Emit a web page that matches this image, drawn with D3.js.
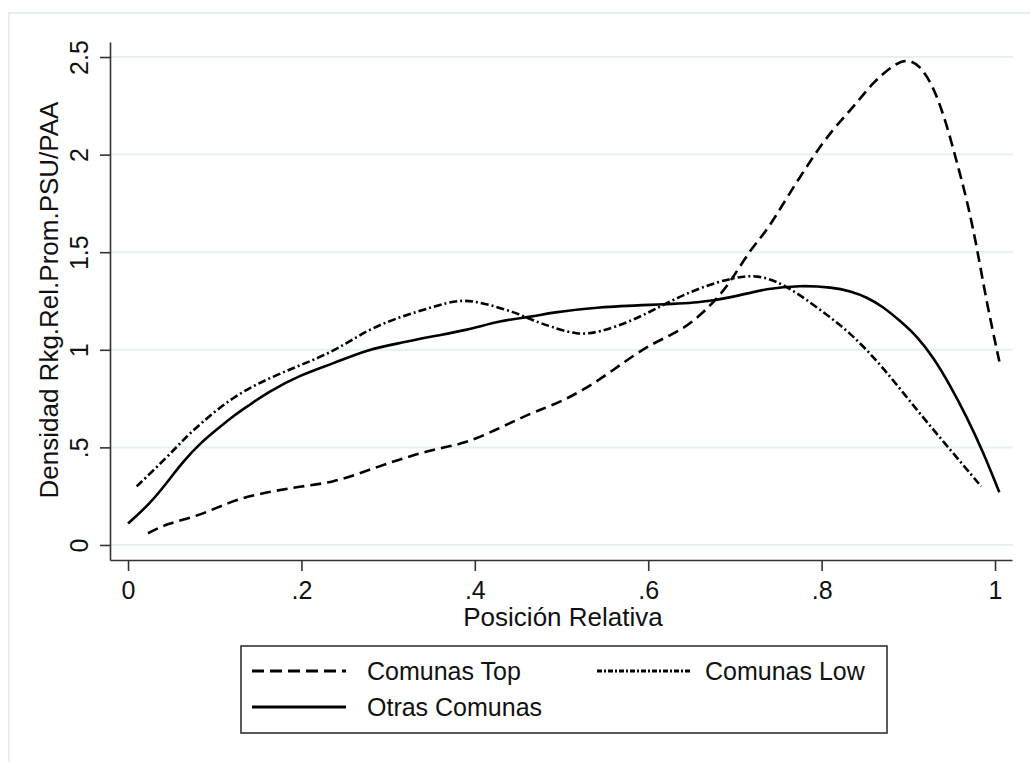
<!DOCTYPE html>
<html>
<head>
<meta charset="utf-8">
<script src="https://cdn.jsdelivr.net/npm/d3@7"></script>
<style>
  html, body { margin: 0; padding: 0; background: #fff; }
  svg { display: block; font-family: Arial, "Liberation Sans", sans-serif; }
</style>
</head>
<body>
<svg id="chart" width="1030" height="762"></svg>
<script>
// Kernel density of relative position, by commune group
const xTicks = [0, 0.2, 0.4, 0.6, 0.8, 1];
const xTickLabels = ["0", ".2", ".4", ".6", ".8", "1"];
const yTicks = [0, 0.5, 1, 1.5, 2, 2.5];
const yTickLabels = ["0", ".5", "1", "1.5", "2", "2.5"];

const topX = [0.023, 0.045, 0.083, 0.121, 0.16, 0.198, 0.237, 0.275, 0.314, 0.352, 0.39, 0.429, 0.467, 0.487, 0.525, 0.564, 0.602, 0.64, 0.671, 0.694, 0.717, 0.737, 0.76, 0.79, 0.813, 0.836, 0.859, 0.883, 0.898, 0.913, 0.929, 0.944, 0.956, 0.967, 0.979, 0.99, 1.005];
const topY = [0.06, 0.11, 0.15, 0.23, 0.27, 0.30, 0.32, 0.38, 0.44, 0.49, 0.52, 0.60, 0.68, 0.71, 0.79, 0.91, 1.03, 1.10, 1.22, 1.34, 1.51, 1.61, 1.78, 1.99, 2.13, 2.24, 2.37, 2.46, 2.49, 2.46, 2.35, 2.16, 1.96, 1.78, 1.53, 1.25, 0.94];

const lowX = [0.01, 0.045, 0.064, 0.083, 0.121, 0.16, 0.198, 0.237, 0.275, 0.314, 0.352, 0.383, 0.41, 0.448, 0.467, 0.487, 0.518, 0.544, 0.583, 0.621, 0.66, 0.698, 0.725, 0.756, 0.794, 0.833, 0.871, 0.91, 0.948, 0.984];
const lowY = [0.30, 0.45, 0.54, 0.62, 0.76, 0.85, 0.92, 0.99, 1.10, 1.17, 1.22, 1.26, 1.24, 1.19, 1.15, 1.12, 1.075, 1.09, 1.15, 1.24, 1.32, 1.37, 1.385, 1.34, 1.22, 1.09, 0.91, 0.69, 0.49, 0.30];

const otrasX = [0.0, 0.025, 0.045, 0.064, 0.083, 0.102, 0.121, 0.141, 0.16, 0.198, 0.237, 0.275, 0.314, 0.352, 0.391, 0.429, 0.467, 0.487, 0.544, 0.602, 0.66, 0.698, 0.737, 0.775, 0.813, 0.833, 0.852, 0.871, 0.89, 0.91, 0.929, 0.948, 0.967, 0.986, 1.005];
const otrasY = [0.11, 0.21, 0.32, 0.43, 0.52, 0.59, 0.66, 0.72, 0.78, 0.87, 0.93, 1.00, 1.035, 1.07, 1.10, 1.15, 1.17, 1.19, 1.22, 1.23, 1.24, 1.27, 1.315, 1.33, 1.32, 1.30, 1.27, 1.22, 1.15, 1.07, 0.96, 0.82, 0.66, 0.48, 0.27];

const seriesNames = ["Comunas Top", "Comunas Low", "Otras Comunas"];

const svg = d3.select("#chart");
const fontTick = 25;
const fontTitle = 26;

// outer graph frame
svg.append("rect")
  .attr("x", 9).attr("y", 13)
  .attr("width", 1040).attr("height", 780)
  .attr("fill", "#fff")
  .attr("stroke", "#e4edf0").attr("stroke-width", 2);

// plot region
const x = d3.scaleLinear().domain([-0.0208, 1.0196]).range([110, 1012]);
const y = d3.scaleLinear().domain([-0.077, 2.577]).range([560, 42]);

// horizontal grid
svg.append("g").selectAll("line").data(yTicks).join("line")
  .attr("x1", 111).attr("x2", 1013)
  .attr("y1", d => y(d)).attr("y2", d => y(d))
  .attr("stroke", "#e6eff2").attr("stroke-width", 2);

// axes
const xAxis = d3.axisBottom(x).tickValues(xTicks)
  .tickFormat((d, i) => xTickLabels[i]).tickSizeOuter(0).tickSizeInner(11).tickPadding(0);
const gx = svg.append("g").attr("transform", "translate(0,560)").call(xAxis);
gx.select(".domain").attr("stroke", "#333").attr("stroke-width", 1.6);
gx.selectAll(".tick line").attr("stroke", "#333").attr("stroke-width", 1.6);
gx.selectAll(".tick text").attr("font-size", fontTick).attr("fill", "#111")
  .attr("font-family", "Arial, 'Liberation Sans', sans-serif")
  .attr("y", 39).attr("dy", null);

const yAxis = d3.axisLeft(y).tickValues(yTicks)
  .tickFormat((d, i) => yTickLabels[i]).tickSizeOuter(0).tickSizeInner(10);
const gy = svg.append("g").attr("transform", "translate(110,0)").call(yAxis);
gy.select(".domain").attr("stroke", "#333").attr("stroke-width", 1.6);
gy.selectAll(".tick line").attr("stroke", "#333").attr("stroke-width", 1.6);
gy.selectAll(".tick text")
  .attr("font-size", fontTick).attr("fill", "#111")
  .attr("font-family", "Arial, 'Liberation Sans', sans-serif")
  .attr("x", null).attr("dy", null)
  .attr("text-anchor", "middle")
  .attr("transform", "translate(-22,0) rotate(-90)");

// axis titles
svg.append("text")
  .attr("x", 563).attr("y", 626)
  .attr("text-anchor", "middle").attr("font-size", fontTitle).attr("fill", "#111")
  .text("Posición Relativa");
svg.append("text")
  .attr("transform", "translate(58,300) rotate(-90)")
  .attr("text-anchor", "middle").attr("font-size", fontTitle).attr("fill", "#111")
  .text("Densidad Rkg.Rel.Prom.PSU/PAA");

// density curves
const line = d3.line().x(d => x(d[0])).y(d => y(d[1])).curve(d3.curveBasis);
const series = [
  { name: seriesNames[0], xs: topX, ys: topY, dash: "11,6" },
  { name: seriesNames[1], xs: lowX, ys: lowY, dash: "8,3,2,3" },
  { name: seriesNames[2], xs: otrasX, ys: otrasY, dash: null }
];
svg.append("g").selectAll("path").data(series).join("path")
  .attr("d", s => line(d3.zip(s.xs, s.ys)))
  .attr("fill", "none").attr("stroke", "#000").attr("stroke-width", 2.6)
  .attr("stroke-dasharray", s => s.dash);

// legend
const lg = svg.append("g");
lg.append("rect").attr("x", 241).attr("y", 646).attr("width", 646).attr("height", 87)
  .attr("fill", "#fff").attr("stroke", "#333").attr("stroke-width", 1.6);
const legendPos = [
  { lx: 252, ly: 671, tx: 367 },
  { lx: 597, ly: 671, tx: 705 },
  { lx: 252, ly: 707, tx: 367 }
];
const legendDash = ["12,6", "5,2,2,2", null];
series.forEach((s, i) => {
  const p = legendPos[i];
  lg.append("line").attr("x1", p.lx).attr("x2", p.lx + 94)
    .attr("y1", p.ly).attr("y2", p.ly)
    .attr("stroke", "#000").attr("stroke-width", 2.8)
    .attr("stroke-dasharray", legendDash[i]);
  lg.append("text").attr("x", p.tx).attr("y", p.ly + 9)
    .attr("font-size", 25).attr("fill", "#111").text(s.name);
});
</script>
</body>
</html>
